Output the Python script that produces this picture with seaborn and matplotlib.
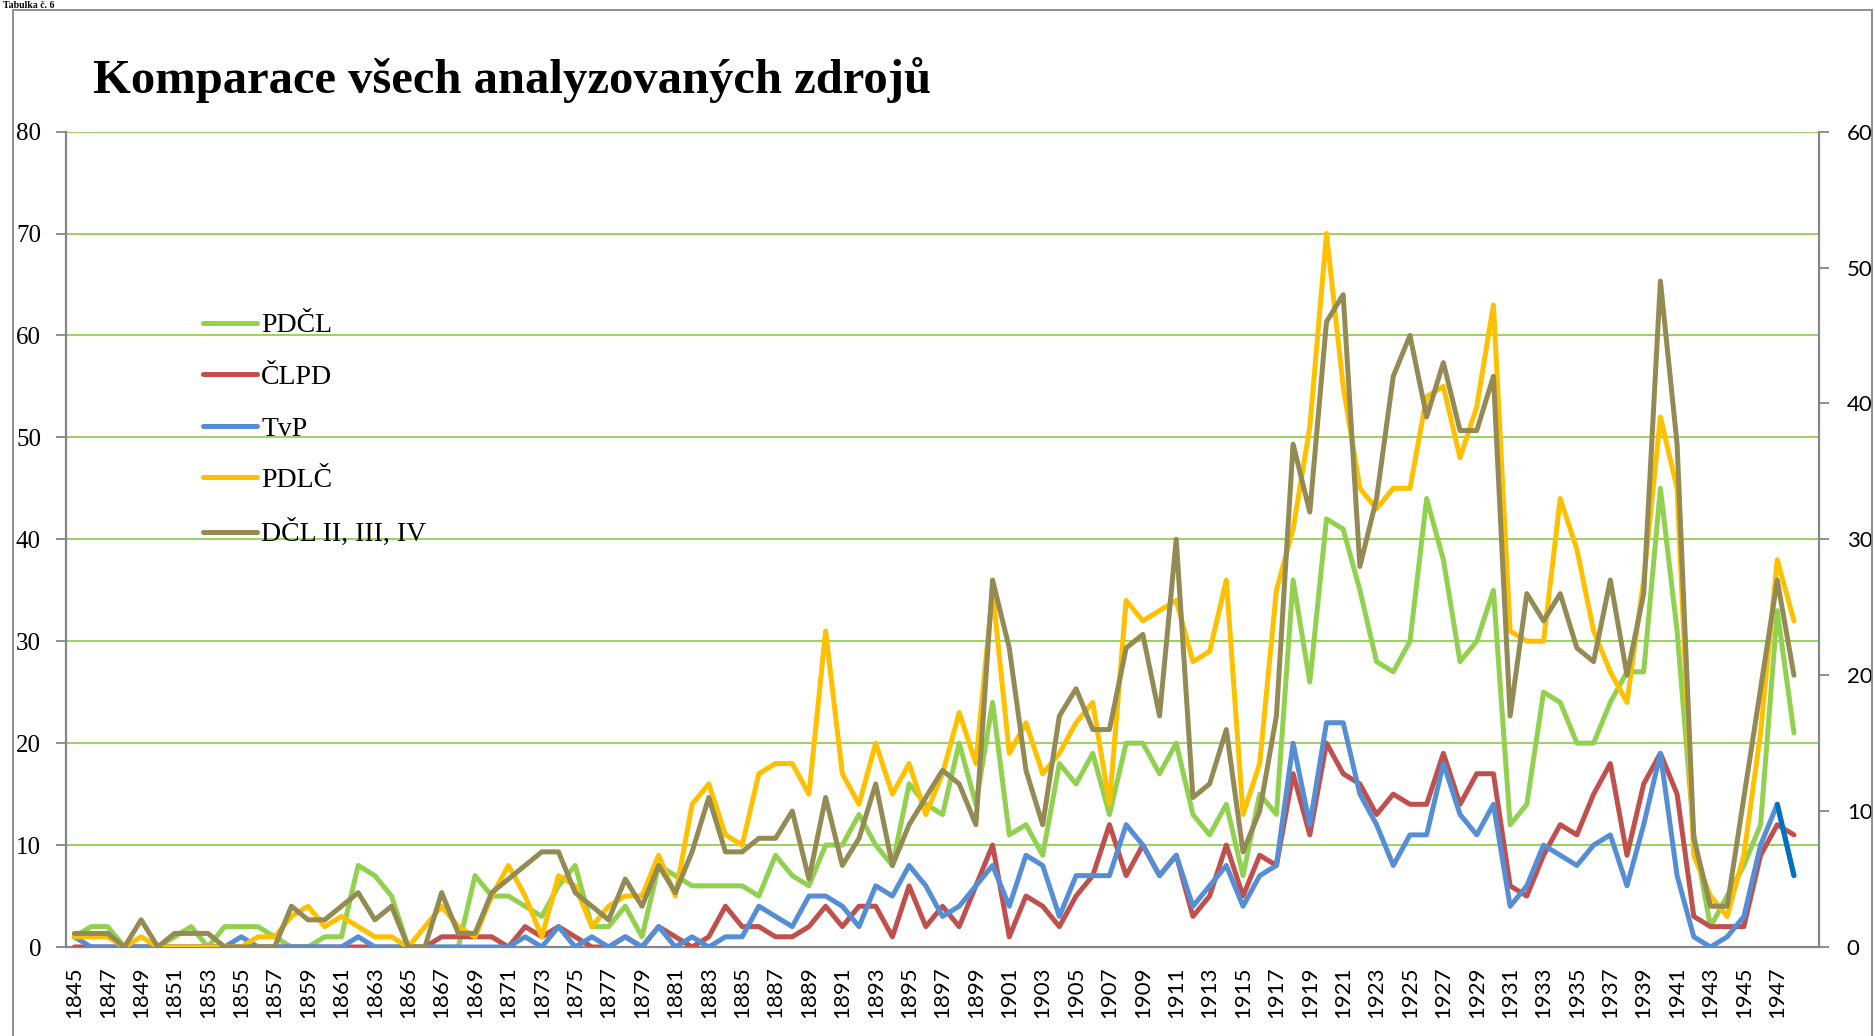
import numpy as np
import pandas as pd
import matplotlib
matplotlib.use("Agg")
import matplotlib.pyplot as plt
from matplotlib.lines import Line2D
from matplotlib.patches import Rectangle
import seaborn as sns

years = list(range(1845, 1949))

pdcl = [1,2,2,0,0,0,1,2,0,2,2,2,1,0,0,1,1,8,7,5,0,0,0,0,7,5,5,4,3,6,
        8,2,2,4,1,8,7,6,6,6,6,5,9,7,6,10,10,13,10,8,16,14,13,20,14,
        24,11,12,9,18,16,19,13,20,20,17,20,13,11,14,7,15,13,36,26,42,41,35,28,27,30,
        44,38,28,30,35,12,14,25,24,20,20,24,27,27,45,31,11,2,5,8,12,33,21]

clpd = [0,0,0,0,0,0,0,0,0,0,0,0,0,0,0,0,0,0,0,0,0,0,1,1,1,1,0,2,1,2,
        1,0,0,1,0,2,1,0,1,4,2,2,1,1,2,4,2,4,4,1,6,2,4,2,6,
        10,1,5,4,2,5,7,12,7,10,7,9,3,5,10,5,9,8,17,11,20,17,16,13,15,14,
        14,19,14,17,17,6,5,9,12,11,15,18,9,16,19,15,3,2,2,2,9,12,11]

tvp = [1,0,0,0,0,0,0,0,0,0,1,0,0,0,0,0,0,1,0,0,0,0,0,0,0,0,0,1,0,2,
       0,1,0,1,0,2,0,1,0,1,1,4,3,2,5,5,4,2,6,5,8,6,3,4,6,
       8,4,9,8,3,7,7,7,12,10,7,9,4,6,8,4,7,8,20,12,22,22,15,12,8,11,
       11,18,13,11,14,4,6,10,9,8,10,11,6,12,19,7,1,0,1,3,10,14,7]

pdlc = [1,1,1,0,1,0,0,0,0,0,0,1,1,3,4,2,3,2,1,1,0,2,4,2,1,5,8,5,1,7,
        6,2,4,5,5,9,5,14,16,11,10,17,18,18,15,31,17,14,20,15,18,13,17,23,18,
        35,19,22,17,19,22,24,14,34,32,33,34,28,29,36,13,18,35,41,51,70,55,45,43,45,45,
        54,55,48,53,63,31,30,30,44,39,31,27,24,36,52,45,9,5,3,9,21,38,32]

dcl = [1,1,1,0,2,0,1,1,1,0,0,0,0,3,2,2,3,4,2,3,0,0,4,1,1,4,5,6,7,7,
       4,3,2,5,3,6,4,7,11,7,7,8,8,10,5,11,6,8,12,6,9,11,13,12,9,
       27,22,13,9,17,19,16,16,22,23,17,30,11,12,16,7,10,17,37,32,46,48,28,33,42,45,
       39,43,38,38,42,17,26,24,26,22,21,27,20,26,49,37,8,3,3,11,19,27,20]

names = ["PDČL", "ČLPD", "TvP", "PDLČ", "DČL II, III, IV"]
colors = ["#92D050", "#C0504D", "#558ED5", "#FFC000", "#948A54"]
left_ticks = [0, 10, 20, 30, 40, 50, 60, 70, 80]
right_ticks = [0, 10, 20, 30, 40, 50, 60]
x_labels = list(range(1845, 1949, 2))

sns.set_style("white")
plt.rcParams["font.family"] = ["Liberation Serif", "DejaVu Serif"]
plt.rcParams["text.color"] = "black"
plt.rcParams["xtick.labelcolor"] = "black"
plt.rcParams["ytick.labelcolor"] = "black"

W, H = 1875, 1036
fig = plt.figure(figsize=(W / 100, H / 100), dpi=100)

def fx(px):
    return px / W

def fy(py):
    return 1 - py / H

ax_l, ax_r, ax_t, ax_b = 66, 1819, 131.6, 947
ax = fig.add_axes([fx(ax_l), fy(ax_b), fx(ax_r - ax_l), (ax_b - ax_t) / H])
ax2 = ax.twinx()

lw = 3.6
df = pd.DataFrame({"year": years, "PDČL": pdcl, "ČLPD": clpd, "TvP": tvp, "PDLČ": pdlc})
for name, col in zip(names[:4], colors[:4]):
    sns.lineplot(data=df, x="year", y=name, ax=ax, color=col, linewidth=lw,
                 solid_joinstyle="round", solid_capstyle="round", zorder=3)
# highlighted last segment of TvP
sns.lineplot(x=years[-2:], y=tvp[-2:], ax=ax, color="#0070C0", linewidth=lw,
             solid_capstyle="round", zorder=4)
sns.lineplot(x=years, y=dcl, ax=ax2, color=colors[4], linewidth=lw,
             solid_joinstyle="round", solid_capstyle="round", zorder=3)

grid_c = "#92D050"
spine_c = "#868686"
ax.set_xlim(1844.5, 1949.5)
ax.set_ylim(0, 80)
ax2.set_ylim(0, 60)
ax.set_yticks(left_ticks)
ax2.set_yticks(right_ticks)
for y in left_ticks[1:]:
    ax.axhline(y, color=grid_c, linewidth=1.3, zorder=1)

ax.set_xticks(x_labels)
ax.set_xticklabels([str(v) for v in x_labels], rotation=90, family="Lato", fontsize=16,
                   color="black")
ax.set_xticks(np.arange(1844.5, 1950, 1), minor=True)
ax.tick_params(axis="x", which="major", length=0, pad=14)
ax.tick_params(axis="x", which="minor", length=7.5, width=1.3, color=spine_c, direction="out")
ax.tick_params(axis="y", which="major", length=7, width=1.3, color=spine_c, direction="out",
               labelsize=18, pad=11, labelcolor="black")
for lab in ax.get_yticklabels():
    lab.set_family("Liberation Serif")
ax2.tick_params(axis="y", which="major", length=7, width=1.3, color=spine_c, direction="out",
                labelsize=16, pad=13, labelcolor="black")
for lab in ax2.get_yticklabels():
    lab.set_family("Lato")

ax.set_xlabel("")
ax.set_ylabel("")
ax2.set_xlabel("")
ax2.set_ylabel("")
for a in (ax, ax2):
    a.grid(False)
    a.spines["top"].set_visible(False)
    for s in ("left", "right", "bottom"):
        a.spines[s].set_color(spine_c)
        a.spines[s].set_linewidth(1.6)
ax2.spines["left"].set_visible(False)
ax.spines["right"].set_visible(False)
ax2.spines["bottom"].set_visible(False)

handles = [Line2D([0], [0], color=c, linewidth=lw, solid_capstyle="round") for c in colors]
leg = ax2.legend(handles, names, loc="upper left", bbox_to_anchor=(fx(203), fy(313)),
                 bbox_transform=fig.transFigure, frameon=False, fontsize=20,
                 handlelength=1.95, handletextpad=0.15, labelspacing=0.94,
                 borderpad=0, borderaxespad=0)
for t in leg.get_texts():
    t.set_family("Liberation Serif")
    t.set_color("black")

fig.text(fx(93), fy(93), "Komparace všech analyzovaných zdrojů", fontsize=35,
         fontweight="bold", family="Liberation Serif", va="baseline", ha="left",
         color="black")
fig.text(fx(3), fy(8), "Tabulka č. 6", fontsize=7, fontweight="bold",
         family="Liberation Serif", va="baseline", ha="left", color="black")

fig.patches.append(Rectangle((fx(12.5), -0.02), fx(1872 - 12.5), 1.02 - 10 / H,
                             transform=fig.transFigure, fill=False,
                             edgecolor=spine_c, linewidth=1.3))

fig.savefig("out.png", dpi=100)
